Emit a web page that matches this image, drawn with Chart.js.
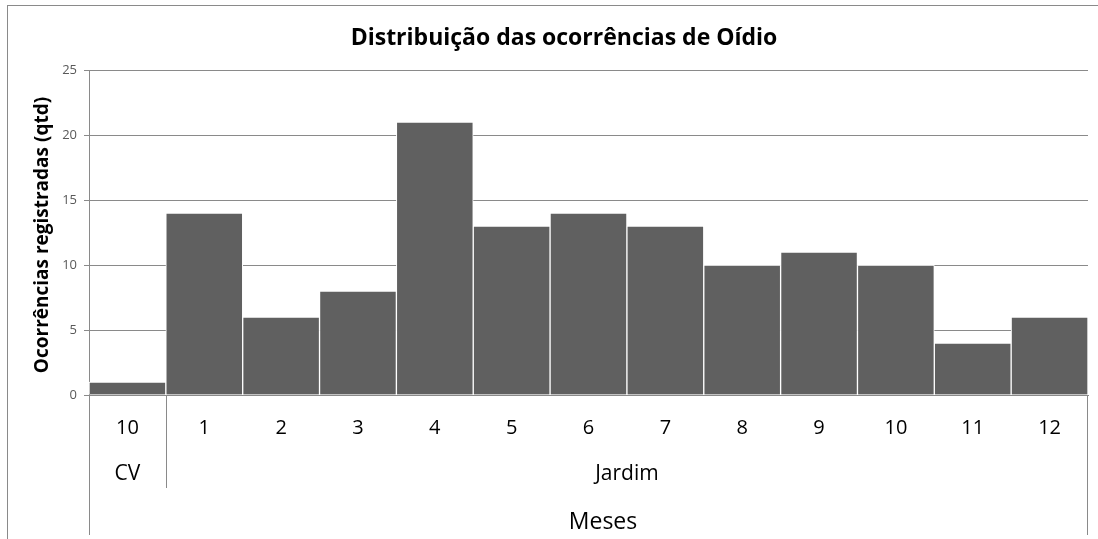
<!DOCTYPE html>
<html>
<head>
<meta charset="utf-8">
<script src="https://cdn.jsdelivr.net/npm/chart.js@4/dist/chart.umd.min.js"></script>
<style>
  html, body { margin: 0; padding: 0; background: #fff; }
  #wrap { position: relative; width: 1098px; height: 539px; overflow: hidden; }
  #frame { position: absolute; left: 7px; top: 5px; width: 1200px; height: 700px; border: 1px solid #8a8a8a; box-sizing: border-box; }
  canvas { position: absolute; left: 0; top: 0; }
</style>
</head>
<body>
<div id="wrap">
  <div id="frame"></div>
  <canvas id="c" width="1098" height="539"></canvas>
</div>
<script>
const chartTitle = 'Distribuição das ocorrências de Oídio';
const yTitle = 'Ocorrências registradas (qtd)';
const xTitle = 'Meses';
const categories = ['10', '1', '2', '3', '4', '5', '6', '7', '8', '9', '10', '11', '12'];
const values = [1, 14, 6, 8, 21, 13, 14, 13, 10, 11, 10, 4, 6];
const groupLabels = ['CV', 'Jardim'];
const groupSizes = [1, 12];
const yTicks = [0, 5, 10, 15, 20, 25];

const FONT = "'Open Sans', 'Noto Sans', sans-serif";
const LINE = '#8a8a8a';

const decor = {
  id: 'decor',
  afterDraw(chart) {
    const ctx = chart.ctx;
    const x = chart.scales.x;
    const area = chart.chartArea;
    ctx.save();
    // title
    ctx.fillStyle = '#000';
    ctx.font = "bold 23px " + FONT;
    ctx.textAlign = 'center';
    ctx.textBaseline = 'middle';
    ctx.fillText(chartTitle, 564, 38);
    // y title
    ctx.save();
    ctx.translate(43, 235);
    ctx.rotate(-Math.PI / 2);
    ctx.font = "bold 19px " + FONT;
    ctx.fillText(yTitle, 0, 0);
    ctx.restore();
    // extension lines
    ctx.strokeStyle = LINE;
    ctx.lineWidth = 1;
    ctx.beginPath();
    ctx.moveTo(Math.round(area.left) + 0.5, area.bottom);
    ctx.lineTo(Math.round(area.left) + 0.5, 535);
    ctx.moveTo(Math.round(area.right) - 0.5, area.bottom);
    ctx.lineTo(Math.round(area.right) - 0.5, 535);
    ctx.stroke();
    // group labels
    ctx.font = "21px " + FONT;
    ctx.fillStyle = '#000';
    let start = 0;
    groupLabels.forEach((g, i) => {
      const end = start + groupSizes[i] - 1;
      const half = (x.getPixelForValue(1) - x.getPixelForValue(0)) / 2;
      const l = x.getPixelForValue(start) - half;
      const r = x.getPixelForValue(end) + half;
      ctx.fillText(g, (l + r) / 2, 474);
      if (i < groupLabels.length - 1) {
        ctx.beginPath();
        ctx.moveTo(Math.round(r) + 0.5, area.bottom);
        ctx.lineTo(Math.round(r) + 0.5, 488);
        ctx.stroke();
      }
      start = end + 1;
    });
    // x title
    ctx.font = "23px " + FONT;
    ctx.fillText(xTitle, 603, 522);
    ctx.restore();
  }
};

new Chart(document.getElementById('c'), {
  type: 'bar',
  data: {
    labels: categories,
    datasets: [{
      data: values,
      backgroundColor: '#606060',
      borderColor: '#ffffff',
      borderWidth: 1,
      categoryPercentage: 1.0,
      barPercentage: 1.0
    }]
  },
  options: {
    responsive: false,
    animation: false,
    devicePixelRatio: 1,
    layout: { padding: { top: 70, right: 10, left: 0, bottom: 0 } },
    plugins: { legend: { display: false }, tooltip: { enabled: false }, title: { display: false } },
    scales: {
      x: {
        grid: { display: false },
        border: { display: true, color: LINE },
        ticks: { color: '#000', font: { family: FONT, size: 20 }, padding: 13, maxRotation: 0, autoSkip: false },
        afterFit(s) { s.height = 144; }
      },
      y: {
        min: 0, max: 25,
        afterBuildTicks(s) { s.ticks = yTicks.map(v => ({ value: v })); },
        grid: { color: LINE, tickLength: 5, drawTicks: true },
        border: { display: true, color: LINE },
        ticks: { color: '#595959', font: { family: FONT, size: 13 }, padding: 7 },
        afterFit(s) { s.width = 89; }
      }
    }
  },
  plugins: [decor]
});
</script>
</body>
</html>
